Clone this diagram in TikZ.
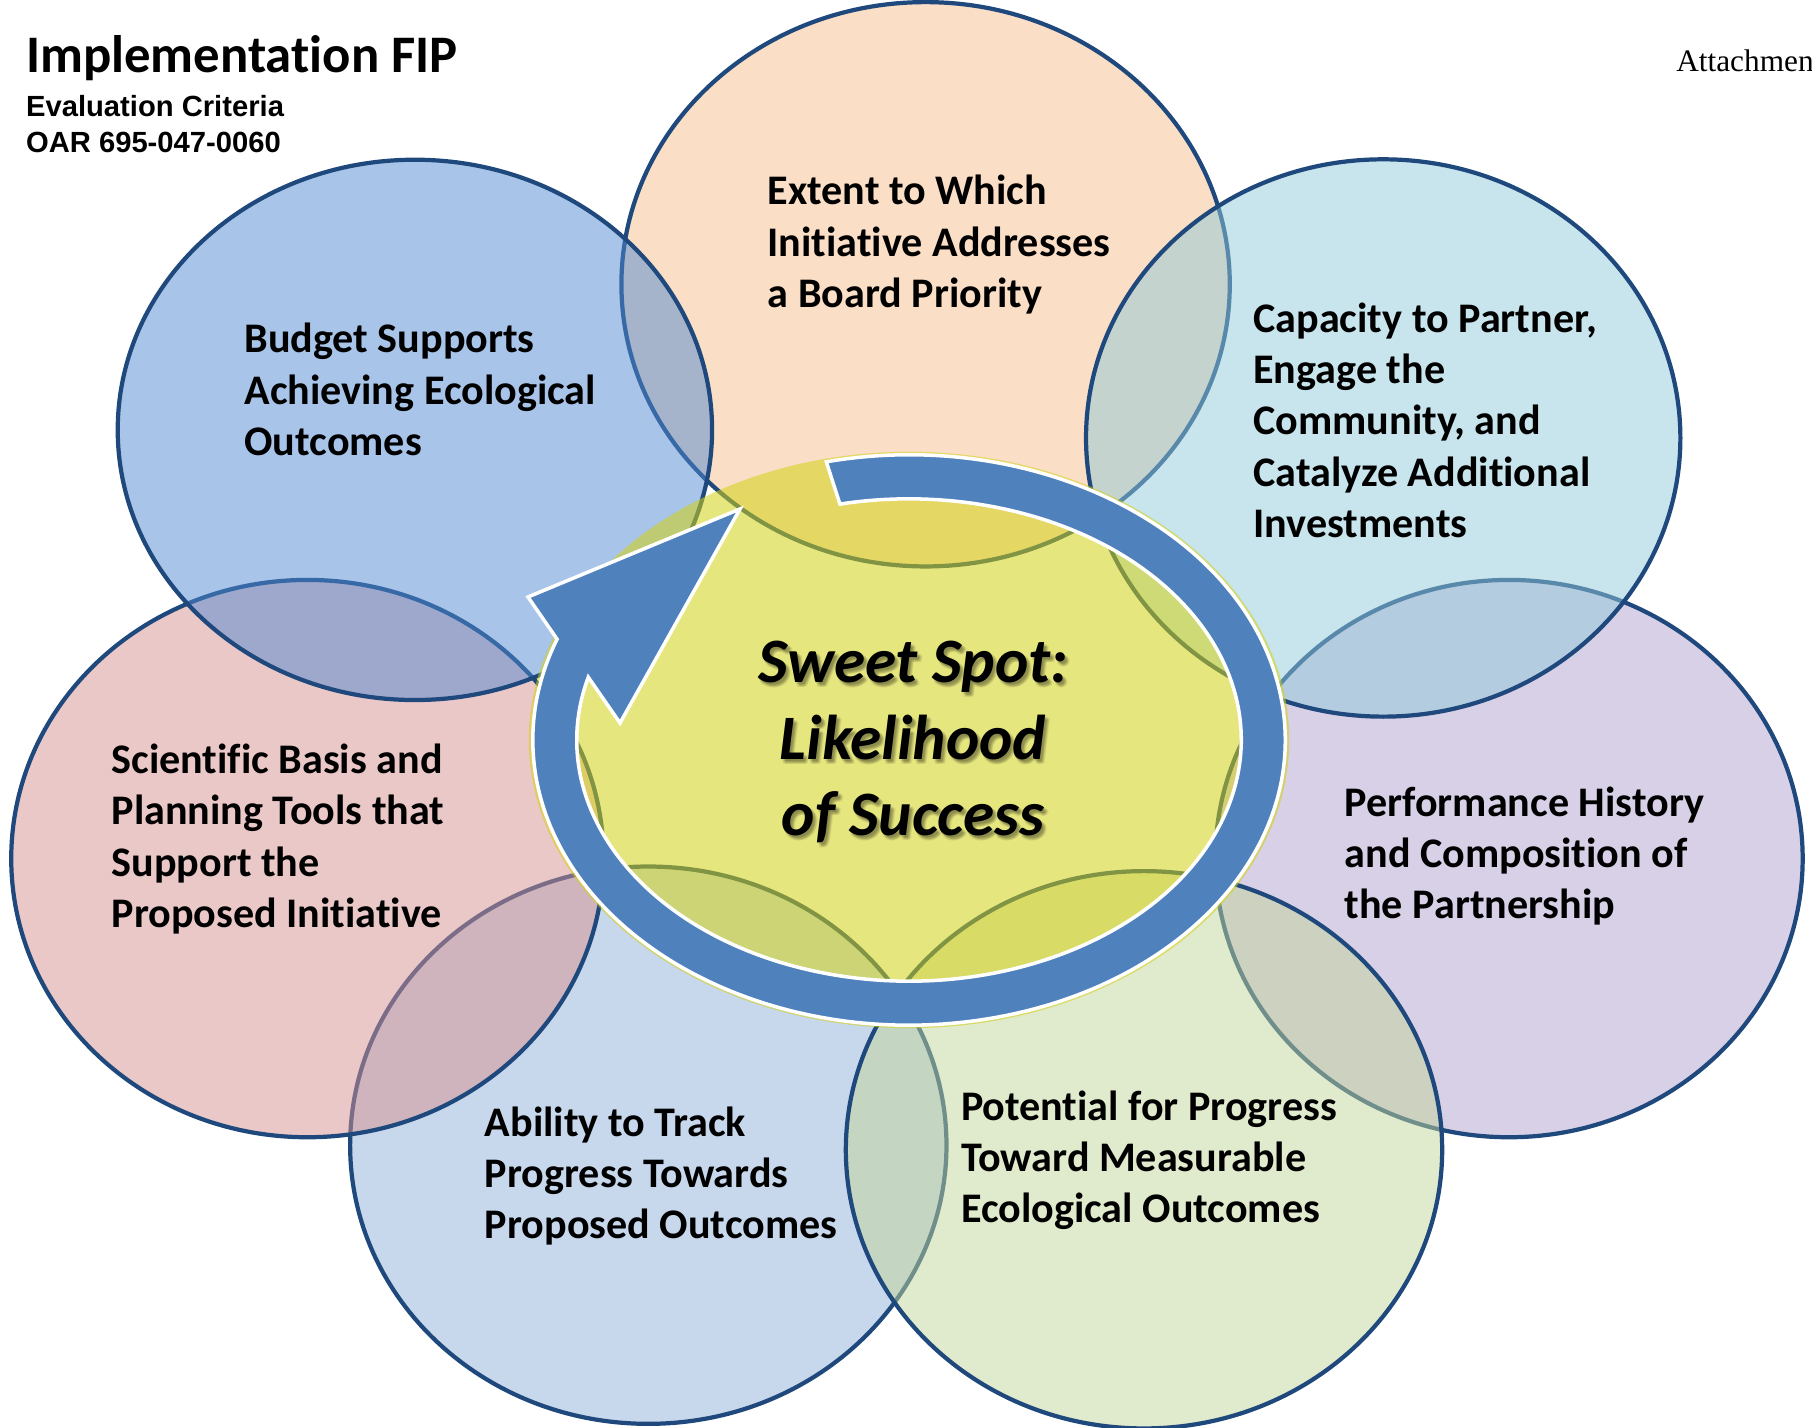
\documentclass[tikz,border=0pt]{standalone}
\usepackage{fontspec}
\setmainfont{Carlito}[Ligatures=NoCommon]
\newfontfamily\headsans{Liberation Sans}
\newfontfamily\docserif{Liberation Serif}
\begin{document}
\begin{tikzpicture}[x=0.01cm,y=0.01cm]
% palette
\definecolor{edgenavy}{RGB}{31,73,125}
\definecolor{peach}{RGB}{245,189,141}
\definecolor{skyblue}{RGB}{81,137,209}
\definecolor{aqua}{RGB}{145,201,217}
\definecolor{rose}{RGB}{215,145,145}
\definecolor{lilac}{RGB}{177,161,205}
\definecolor{paleblue}{RGB}{145,177,217}
\definecolor{sage}{RGB}{193,213,153}
\definecolor{lemon}{RGB}{210,210,20}
\definecolor{ringblue}{RGB}{79,129,189}
\tikzset{
  petal/.style={draw=edgenavy, line width=1.2pt, fill opacity=0.5},
  petaltext/.style={anchor=north west, inner sep=0pt, align=left,
    font=\bfseries\fontsize{11.98pt}{14.6pt}\selectfont},
  ringband/.style={fill=ringblue, draw=white, line width=1pt, line join=miter},
  sweetfont/.style={align=center, inner sep=0pt,
    font=\bfseries\itshape\fontsize{18pt}{21.7pt}\selectfont}
}
\useasboundingbox (0,0) rectangle (1812,1428);
\clip (0,0) rectangle (1812,1428);

% seven overlapping criteria ellipses, lowest first
\path[petal, fill=peach]    (925.6,1143.7) ellipse [x radius=3.04cm, y radius=2.82cm];
\path[petal, fill=paleblue] (648.3,282.8)  ellipse [x radius=2.98cm, y radius=2.785cm];
\path[petal, fill=lilac]    (1509,569.4)   ellipse [x radius=2.935cm, y radius=2.785cm];
\path[petal, fill=aqua]     (1383.2,990)   ellipse [x radius=2.97cm, y radius=2.785cm];
\path[petal, fill=sage]     (1144,278.2)   ellipse [x radius=2.98cm, y radius=2.785cm];
\path[petal, fill=rose]     (307.4,569.4)  ellipse [x radius=2.96cm, y radius=2.785cm];
\path[petal, fill=skyblue]  (414.9,998.1)  ellipse [x radius=2.97cm, y radius=2.70cm];

% central sweet spot
\fill[lemon, fill opacity=0.55] (909,688) ellipse [x radius=3.80cm, y radius=2.88cm];

% circular arrow around the sweet spot
\begin{scope}[shift={(909,688)}]
\path[ringband] (102.7:3.76cm and 2.85cm)
  arc[start angle=102.7, end angle=-200.7, x radius=3.76cm, y radius=2.85cm]
  -- (-381,143) -- (-169,231) -- (-289,17)
  -- (-195.1:3.32cm and 2.41cm)
  arc[start angle=-195.1, end angle=102, x radius=3.32cm, y radius=2.41cm]
  -- cycle;
\end{scope}

% header
\node[anchor=base west, inner sep=0pt, font=\bfseries\fontsize{15pt}{18pt}\selectfont]
  (title) at (25.4,1355.2) {Implementation FIP};
\node[anchor=base west, inner sep=0pt, font=\headsans\bfseries\fontsize{8.3pt}{10pt}\selectfont]
  (criteria) at (25.4,1311.3) {Evaluation Criteria};
\node[anchor=base west, inner sep=0pt, font=\headsans\bfseries\fontsize{8.3pt}{10pt}\selectfont]
  (oar) at (25.4,1275.5) {OAR 695-047-0060};
\node[anchor=base west, inner sep=0pt, font=\docserif\fontsize{8.9pt}{10pt}\selectfont]
  (attach) at (1675.6,1356.4) {Attachment};

% criteria labels
\node[petaltext] (priority) at (767,1253.3)
  {Extent to Which\\Initiative Addresses\\a Board Priority};
\node[petaltext] (budget) at (243.8,1105.4)
  {Budget Supports\\Achieving Ecological\\Outcomes};
\node[petaltext] (partner) at (1252.7,1126.2)
  {Capacity to Partner,\\Engage the\\Community, and\\Catalyze Additional\\Investments};
\node[petaltext] (science) at (110.9,684.8)
  {Scientific Basis and\\Planning Tools that\\Support the\\Proposed Initiative};
\node[petaltext] (history) at (1344,642)
  {Performance History\\and Composition of\\the Partnership};
\node[petaltext] (tracking) at (484.2,322)
  {Ability to Track\\Progress Towards\\Proposed Outcomes};
\node[petaltext] (progress) at (960.3,338.1)
  {Potential for Progress\\Toward Measurable\\Ecological Outcomes};

% sweet spot title with a soft drop shadow
\foreach \i/\dx/\dy in {1/1/-2, 2/3/-2, 3/2/-3, 4/4/-3, 5/2/-5, 6/4/-5, 7/3/-4, 8/5/-4}
  \node[sweetfont, text=black, text opacity=0.06] (sweetshade\i) at (913+\dx,686+\dy)
    {Sweet Spot:\\Likelihood\\of Success};
\node[sweetfont] (sweet) at (913,686) {Sweet Spot:\\Likelihood\\of Success};
\end{tikzpicture}
\end{document}
